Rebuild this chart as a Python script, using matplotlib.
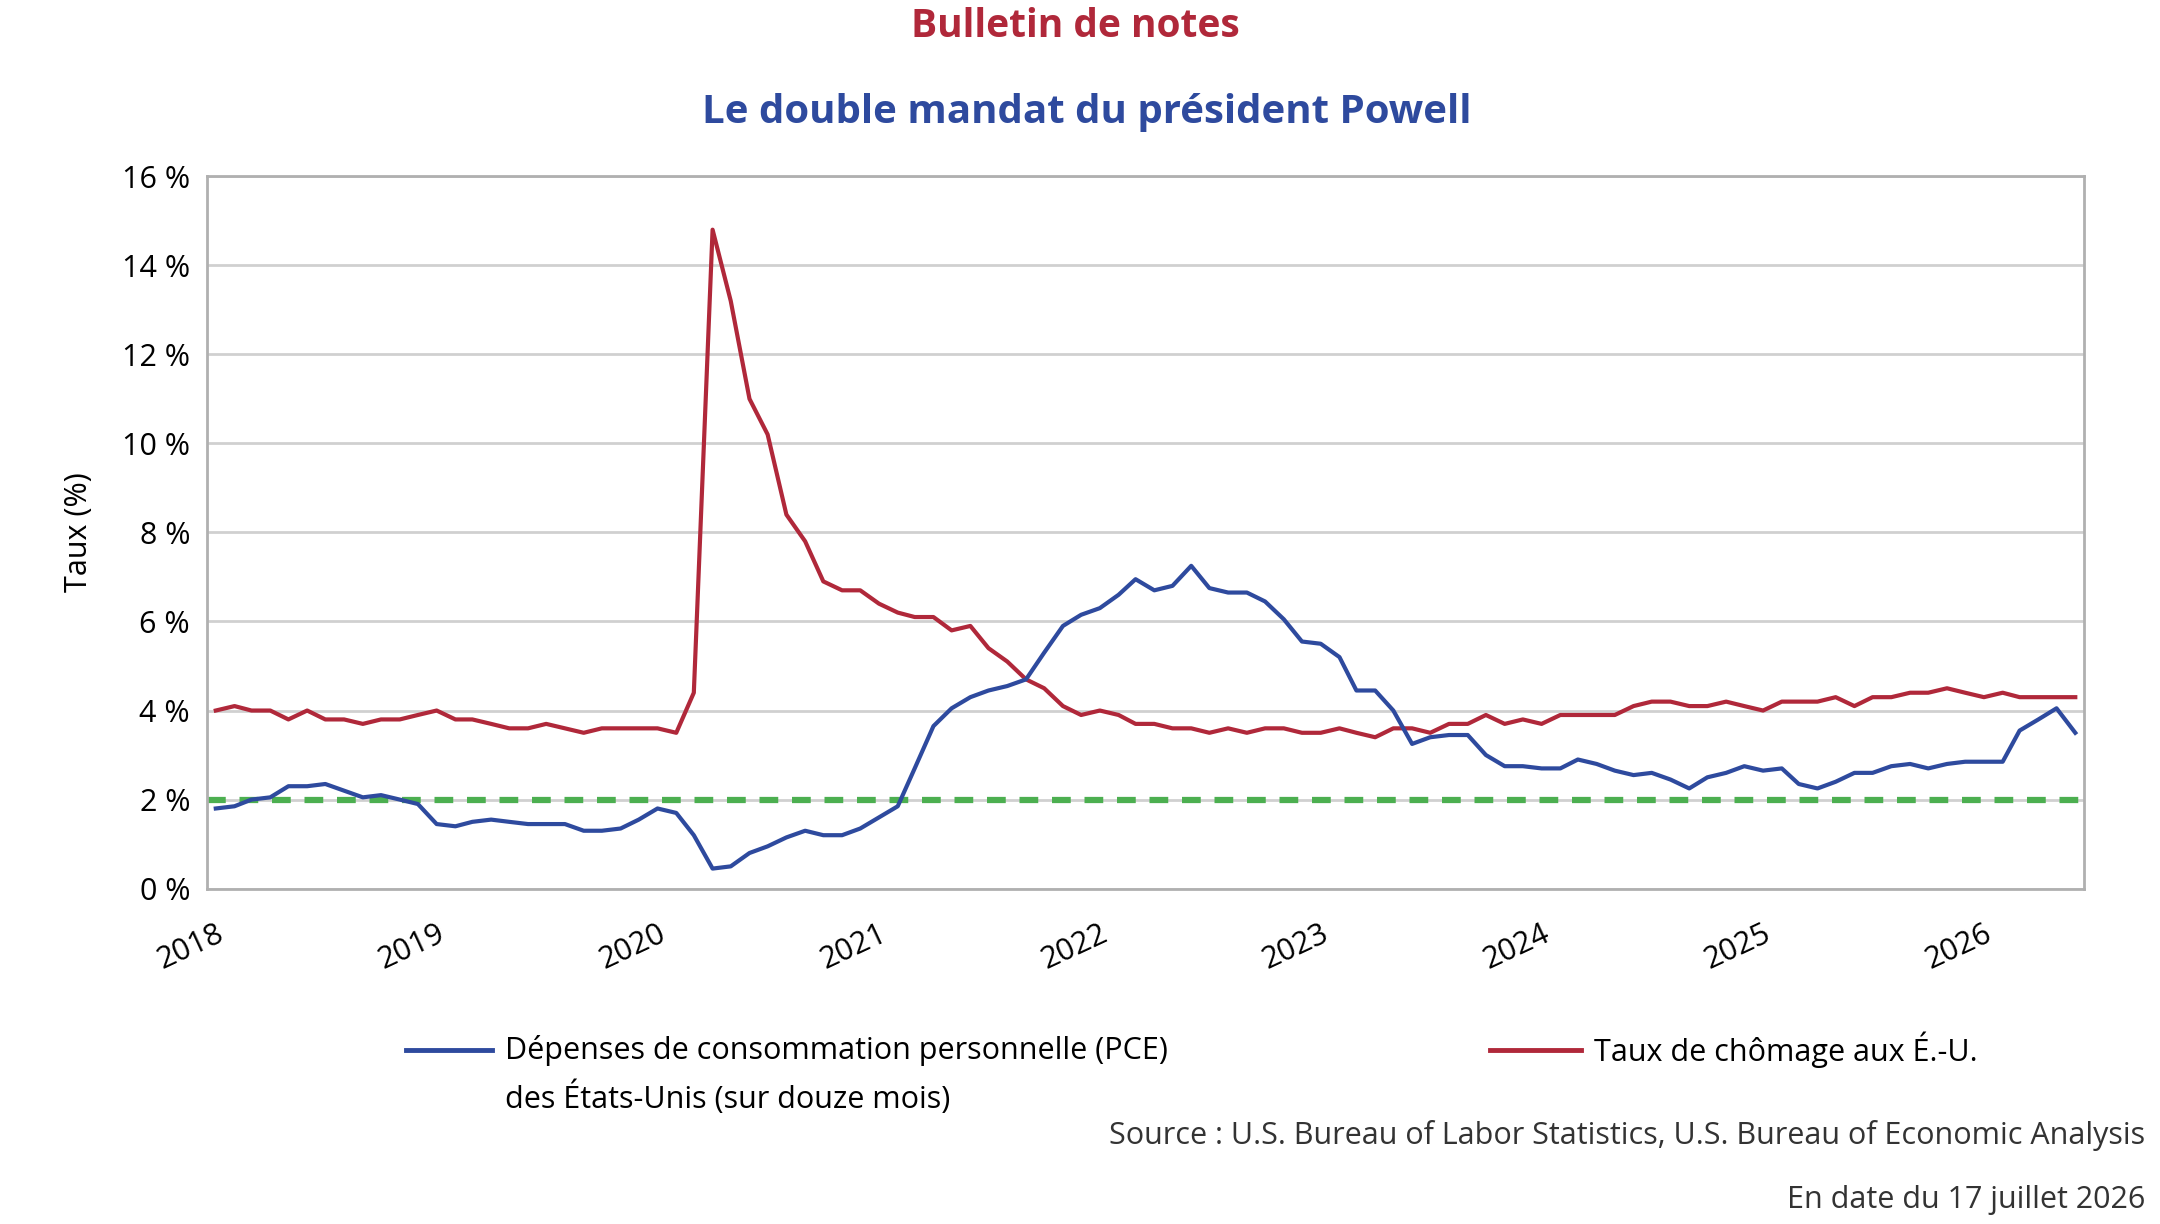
import numpy as np
import pandas as pd
import matplotlib
matplotlib.use('Agg')
import matplotlib.pyplot as plt
from matplotlib.lines import Line2D

plt.rcParams['font.family'] = ['Open Sans', 'DejaVu Sans']

months = pd.date_range('2018-01-01', periods=102, freq='MS')
chomage = [4.0,4.1,4.0,4.0,3.8,4.0,3.8,3.8,3.7,3.8,3.8,3.9,
           4.0,3.8,3.8,3.7,3.6,3.6,3.7,3.6,3.5,3.6,3.6,3.6,
           3.6,3.5,4.4,14.8,13.2,11.0,10.2,8.4,7.8,6.9,6.7,6.7,
           6.4,6.2,6.1,6.1,5.8,5.9,5.4,5.1,4.7,4.5,4.1,3.9,
           4.0,3.9,3.7,3.7,3.6,3.6,3.5,3.6,3.5,3.6,3.6,3.5,
           3.5,3.6,3.5,3.4,3.6,3.6,3.5,3.7,3.7,3.9,3.7,3.8,
           3.7,3.9,3.9,3.9,3.9,4.1,4.2,4.2,4.1,4.1,4.2,4.1,
           4.0,4.2,4.2,4.2,4.3,4.1,4.3,4.3,4.4,4.4,4.5,4.4,
           4.3,4.4,4.3,4.3,4.3,4.3]
pce = [1.8,1.85,2.0,2.05,2.3,2.3,2.35,2.2,2.05,2.1,2.0,1.9,
       1.45,1.4,1.5,1.55,1.5,1.45,1.45,1.45,1.3,1.3,1.35,1.55,
       1.8,1.7,1.2,0.45,0.5,0.8,0.95,1.15,1.3,1.2,1.2,1.35,
       1.6,1.85,2.7,3.65,4.05,4.3,4.45,4.55,4.7,5.3,5.9,6.15,
       6.3,6.6,6.95,6.7,6.8,7.25,6.75,6.65,6.65,6.45,6.05,5.55,
       5.5,5.2,4.45,4.45,4.0,3.25,3.4,3.45,3.45,3.0,2.75,2.75,
       2.7,2.7,2.9,2.8,2.65,2.55,2.6,2.45,2.25,2.5,2.6,2.75,
       2.65,2.7,2.35,2.25,2.4,2.6,2.6,2.75,2.8,2.7,2.8,2.85,
       2.85,2.85,3.55,3.8,4.05,3.5]
cible = 2.0

RED = '#B0283A'; BLUE = '#2E4A9E'; GREEN = '#4CAF50'

fig = plt.figure(figsize=(21.6, 12.24), dpi=100)
ax = fig.add_axes([0.0957, 0.274, 0.869, 0.582])
ax.axhline(cible, color=GREEN, lw=4.5, ls=(0, (3, 2.2)), zorder=2)
ax.plot(months, chomage, color=RED, lw=3, zorder=3)
ax.plot(months, pce, color=BLUE, lw=3, zorder=4)

ax.set_ylim(0, 16)
ax.set_yticks(range(0, 17, 2))
ax.set_yticklabels([f'{v} %' for v in range(0, 17, 2)])
ax.set_xlim(pd.Timestamp('2017-12-17'), pd.Timestamp('2026-06-15'))
years = [pd.Timestamp(f'{y}-01-01') for y in range(2018, 2027)]
ax.set_xticks(years)
ax.set_xticklabels([str(y) for y in range(2018, 2027)], rotation=25, ha='right', rotation_mode='anchor')
ax.tick_params(axis='both', labelsize=22, length=0)
ax.tick_params(axis='x', pad=22)
ax.tick_params(axis='y', pad=12)
ax.grid(axis='y', color='#d0d0d0', lw=2)
for s in ax.spines.values():
    s.set_color('#b0b0b0'); s.set_linewidth(2)
ax.set_ylabel('Taux (%)', fontsize=22, labelpad=20)

fig.text(0.498, 0.978, 'Bulletin de notes', color=RED, fontsize=28, fontweight='bold', ha='center', va='center')
fig.text(0.503, 0.908, 'Le double mandat du président Powell', color=BLUE, fontsize=29, fontweight='bold', ha='center', va='center')

fig.add_artist(Line2D([0.188, 0.228], [0.142, 0.142], color=BLUE, lw=3.5))
fig.text(0.234, 0.142, 'Dépenses de consommation personnelle (PCE)', fontsize=22, va='center')
fig.text(0.234, 0.103, 'des États-Unis (sur douze mois)', fontsize=22, va='center')
fig.add_artist(Line2D([0.69, 0.732], [0.142, 0.142], color=RED, lw=3.5))
fig.text(0.738, 0.142, 'Taux de chômage aux É.-U.', fontsize=22, va='center')

fig.text(0.993, 0.072, 'Source : U.S. Bureau of Labor Statistics, U.S. Bureau of Economic Analysis',
         fontsize=22, ha='right', va='center', color='#333333')
fig.text(0.993, 0.020, 'En date du 17 juillet 2026', fontsize=22, ha='right', va='center', color='#333333')

fig.savefig('out.png', dpi=100, facecolor='white')
